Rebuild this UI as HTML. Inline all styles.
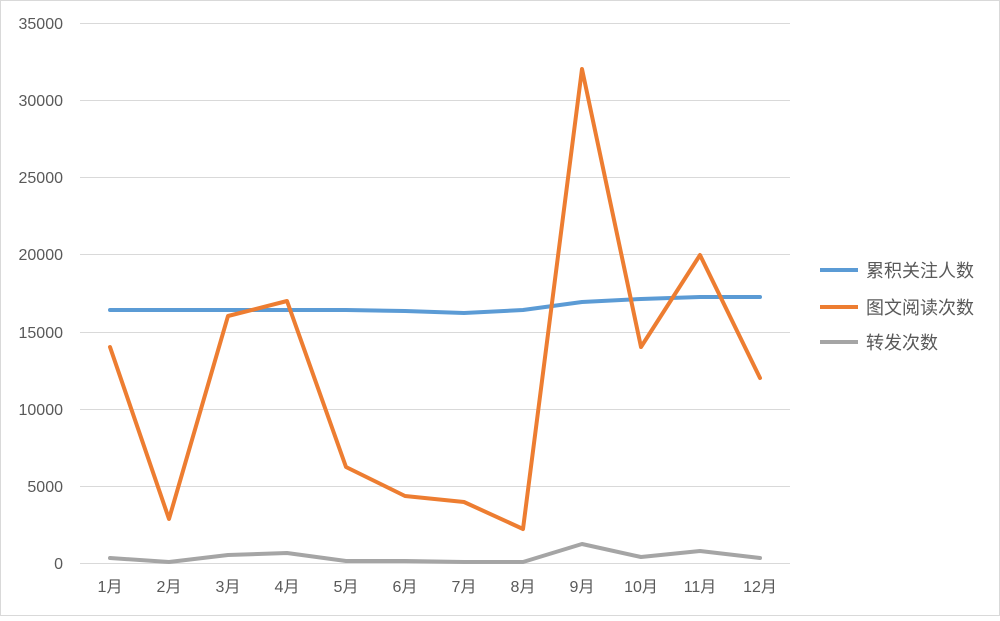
<!DOCTYPE html>
<html><head><meta charset="utf-8"><style>
html,body{margin:0;padding:0;background:#fff;}
svg text{font-family:"Liberation Sans","Noto Sans CJK SC",sans-serif;fill:#595959;font-size:16px;}
svg text.lg{font-size:18px;}
</style></head><body>
<svg width="1000" height="616" xmlns="http://www.w3.org/2000/svg">
<rect x="0.5" y="0.5" width="999" height="615" fill="#fff" stroke="#d9d9d9"/>
<g stroke="#d9d9d9" stroke-width="1">
<line x1="80" y1="23.5" x2="790" y2="23.5"/>
<line x1="80" y1="100.5" x2="790" y2="100.5"/>
<line x1="80" y1="177.5" x2="790" y2="177.5"/>
<line x1="80" y1="254.5" x2="790" y2="254.5"/>
<line x1="80" y1="332.5" x2="790" y2="332.5"/>
<line x1="80" y1="409.5" x2="790" y2="409.5"/>
<line x1="80" y1="486.5" x2="790" y2="486.5"/>
<line x1="80" y1="563.5" x2="790" y2="563.5"/>
</g>
<g text-anchor="end">
<text x="63" y="29">35000</text>
<text x="63" y="106">30000</text>
<text x="63" y="183">25000</text>
<text x="63" y="260">20000</text>
<text x="63" y="338">15000</text>
<text x="63" y="415">10000</text>
<text x="63" y="492">5000</text>
<text x="63" y="569">0</text>
</g>
<g text-anchor="middle">
<text x="110" y="592">1月</text>
<text x="169" y="592">2月</text>
<text x="228" y="592">3月</text>
<text x="287" y="592">4月</text>
<text x="346" y="592">5月</text>
<text x="405" y="592">6月</text>
<text x="464" y="592">7月</text>
<text x="523" y="592">8月</text>
<text x="582" y="592">9月</text>
<text x="641" y="592">10月</text>
<text x="700" y="592">11月</text>
<text x="760" y="592">12月</text>
</g>
<g fill="none" stroke-width="4" stroke-linejoin="round" stroke-linecap="round">
<polyline stroke="#5b9bd5" points="110,310 169,310 228,310 287,310 346,310 405,311 464,313 523,310 582,302 641,299 700,297 760,297"/>
<polyline stroke="#ed7d31" points="110,347 169,519 228,316 287,301 346,467 405,496 464,502 523,529 582,69 641,347 700,255 760,378"/>
<polyline stroke="#a5a5a5" points="110,558 169,562 228,555 287,553 346,561 405,561 464,562 523,562 582,544 641,557 700,551 760,558"/>
</g>
<g stroke-width="4">
<line x1="820" y1="270" x2="858" y2="270" stroke="#5b9bd5"/>
<line x1="820" y1="307" x2="858" y2="307" stroke="#ed7d31"/>
<line x1="820" y1="342" x2="858" y2="342" stroke="#a5a5a5"/>
</g>
<text class="lg" x="866" y="277">累积关注人数</text>
<text class="lg" x="866" y="314">图文阅读次数</text>
<text class="lg" x="866" y="349">转发次数</text>
</svg>
</body></html>
